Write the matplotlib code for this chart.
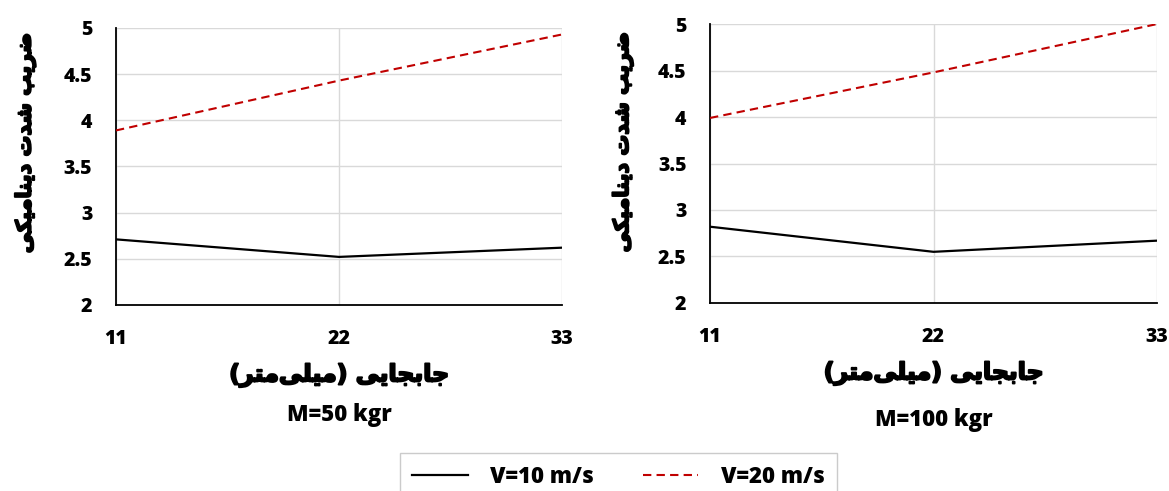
import matplotlib
matplotlib.use("Agg")
import matplotlib.pyplot as plt
import matplotlib.patheffects as pe
from matplotlib.lines import Line2D

# ---------------- data ----------------
x_disp = [11, 22, 33]
v10_m50 = [2.71, 2.52, 2.62]
v20_m50 = [3.89, 4.43, 4.93]
v10_m100 = [2.82, 2.55, 2.67]
v20_m100 = [3.99, 4.48, 5.00]

y_ticks = [2, 2.5, 3, 3.5, 4, 4.5, 5]
ylabel_fa = "ضریب شدت دینامیکی"
xlabel_fa = "جابجایی (میلی\u200cمتر)"
titles = ["M=50 kgr", "M=100 kgr"]
legend_labels = ["V=10 m/s", "V=20 m/s"]

# ---------------- simple arabic shaping (matplotlib has no shaper) ----------------
# letter: (isolated, final, initial, medial); None for initial/medial = right-joining only
FORMS = {
    "ض": ("\uFEBD", "\uFEBE", "\uFEBF", "\uFEC0"),
    "ر": ("\uFEAD", "\uFEAE", None, None),
    "ی": ("\uFEEF", "\uFEF0", "\uFEF3", "\uFEF4"),
    "ب": ("\uFE8F", "\uFE90", "\uFE91", "\uFE92"),
    "ش": ("\uFEB5", "\uFEB6", "\uFEB7", "\uFEB8"),
    "د": ("\uFEA9", "\uFEAA", None, None),
    "ت": ("\uFE95", "\uFE96", "\uFE97", "\uFE98"),
    "ن": ("\uFEE5", "\uFEE6", "\uFEE7", "\uFEE8"),
    "ا": ("\uFE8D", "\uFE8E", None, None),
    "م": ("\uFEE1", "\uFEE2", "\uFEE3", "\uFEE4"),
    "ک": ("\uFB8E", "\uFB8F", "\uFB90", "\uFB91"),
    "ج": ("\uFE9D", "\uFE9E", "\uFE9F", "\uFEA0"),
    "ل": ("\uFEDD", "\uFEDE", "\uFEDF", "\uFEE0"),
}
MIRROR = {"(": ")", ")": "("}


def shape(text):
    out = []
    chars = list(text)
    for i, c in enumerate(chars):
        if c not in FORMS:
            if c != "\u200c":
                out.append(c)
            continue
        prev = chars[i - 1] if i > 0 else None
        nxt = chars[i + 1] if i + 1 < len(chars) else None
        join_prev = prev in FORMS and FORMS[prev][2] is not None
        join_next = nxt in FORMS and FORMS[c][2] is not None
        iso, fin, ini, med = FORMS[c]
        if join_prev and join_next:
            out.append(med)
        elif join_prev:
            out.append(fin)
        elif join_next:
            out.append(ini)
        else:
            out.append(iso)
    return "".join(MIRROR.get(c, c) for c in reversed(out))


LAT = dict(family="Open Sans", fontweight=800)
heavy = [pe.withStroke(linewidth=1.4, foreground="black")]

fig = plt.figure(figsize=(11.69, 4.91), dpi=100)

boxes = [[0.0992, 0.379, 0.3816, 0.564], [0.6074, 0.383, 0.3823, 0.568]]
series = [(v10_m50, v20_m50), (v10_m100, v20_m100)]
title_y = [0.155, 0.145]
ylab_pos = [(-0.18, 0.585), (-0.172, 0.577)]

for k in range(2):
    ax = fig.add_axes(boxes[k])
    s10, s20 = series[k]
    ax.plot(x_disp, s10, color="black", lw=1.6, zorder=3)
    ax.plot(x_disp, s20, color="#c00000", lw=1.5, ls=(0, (4, 2.5)), zorder=3)
    ax.set_xlim(11, 33)
    ax.set_ylim(2, 5)
    ax.set_xticks(x_disp, [str(v) for v in x_disp], fontsize=14, **LAT)
    ax.set_yticks(y_ticks, [f"{v:g}" for v in y_ticks], fontsize=14, **LAT)
    ax.grid(True, color="#d9d9d9", lw=1)
    ax.set_axisbelow(True)
    for sp in ["top", "right"]:
        ax.spines[sp].set_visible(False)
    for sp in ["left", "bottom"]:
        ax.spines[sp].set_color("black")
        ax.spines[sp].set_linewidth(1.3)
    ax.tick_params(length=0, pad=17)
    ax.tick_params(axis="x", pad=17)
    yl = ax.set_ylabel(shape(ylabel_fa), family="DejaVu Sans", fontsize=15,
                       fontweight="bold")
    ax.yaxis.set_label_coords(*ylab_pos[k])
    xl = ax.set_xlabel(shape(xlabel_fa), family="DejaVu Sans", fontsize=17,
                       fontweight="bold", labelpad=10)
    yl.set_path_effects(heavy)
    xl.set_path_effects(heavy)
    cx = boxes[k][0] + boxes[k][2] / 2
    fig.text(cx, title_y[k], titles[k], ha="center", va="center",
             fontsize=16, **LAT)

handles = [Line2D([], [], color="black", lw=1.6),
           Line2D([], [], color="#c00000", lw=1.5, ls=(0, (4, 2.5)))]
leg = fig.legend(handles, legend_labels, loc="upper center",
                 bbox_to_anchor=(0.529, 0.078), ncol=2, frameon=True,
                 fancybox=False, edgecolor="#bfbfbf",
                 prop=dict(family="Open Sans", weight=800, size=16),
                 handlelength=2.5, handletextpad=1.0, columnspacing=2.2,
                 borderpad=0.55, borderaxespad=0)

fig.savefig("out.png", dpi=100)
